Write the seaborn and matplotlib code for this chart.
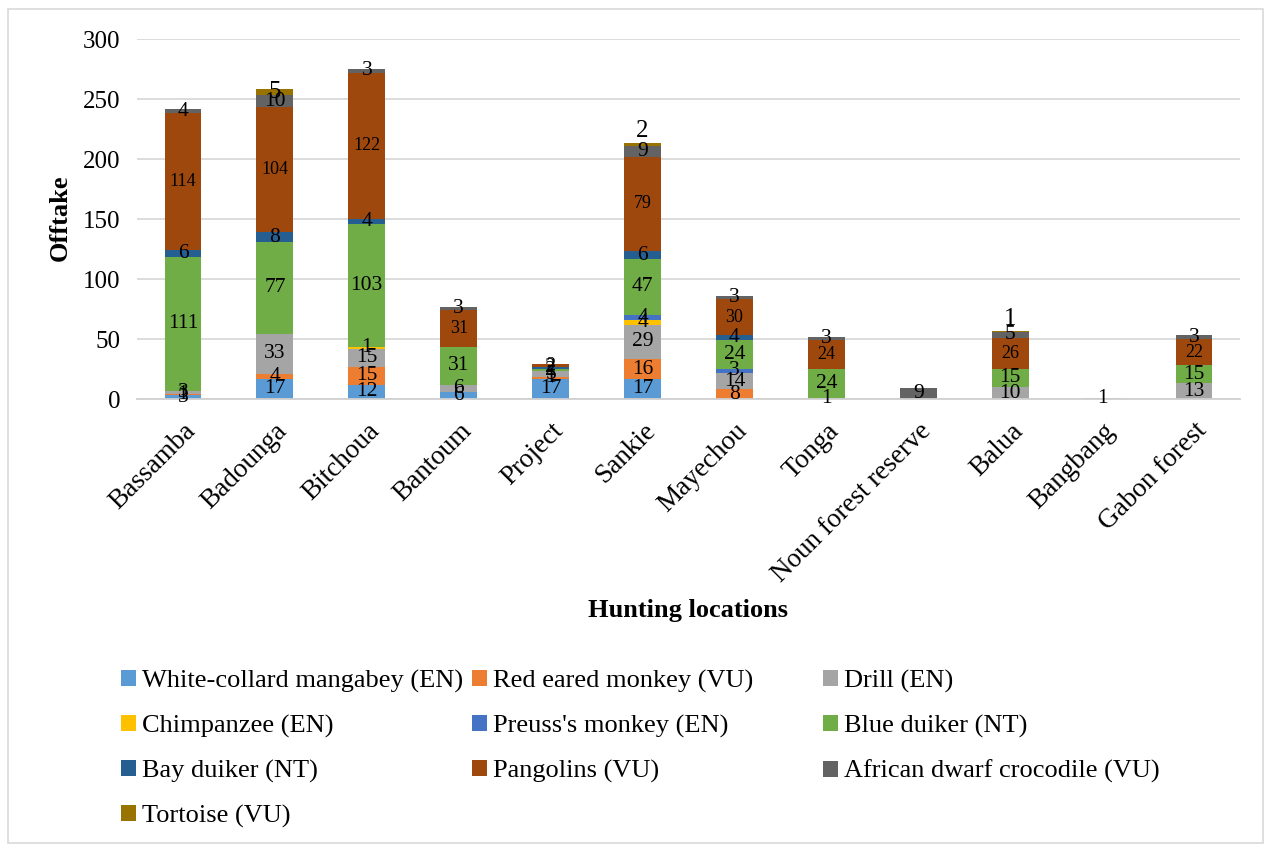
import numpy as np
import matplotlib
matplotlib.use("Agg")
import matplotlib.pyplot as plt
from matplotlib.patches import Patch, Rectangle
import seaborn as sns

# Hunting locations (x axis)
locations = ["Bassamba", "Badounga", "Bitchoua", "Bantoum", "Project", "Sankie",
             "Mayechou", "Tonga", "Noun forest reserve", "Balua", "Bangbang",
             "Gabon forest"]

# Offtake per species, one value per location
white_collard_mangabey = [3, 17, 12, 6, 17, 17, 0, 0, 0, 0, 0, 0]
red_eared_monkey       = [1, 4, 15, 0, 1, 16, 8, 0, 0, 0, 0, 0]
drill                  = [3, 33, 15, 6, 5, 29, 14, 1, 0, 10, 1, 13]
chimpanzee             = [0, 0, 1, 0, 0, 4, 0, 0, 0, 0, 0, 0]
preuss_monkey          = [0, 0, 0, 0, 0, 4, 3, 0, 0, 0, 0, 0]
blue_duiker            = [111, 77, 103, 31, 2, 47, 24, 24, 0, 15, 0, 15]
bay_duiker             = [6, 8, 4, 0, 2, 6, 4, 0, 0, 0, 0, 0]
pangolins              = [114, 104, 122, 31, 2, 79, 30, 24, 0, 26, 0, 22]
dwarf_crocodile        = [4, 10, 3, 3, 0, 9, 3, 3, 9, 5, 0, 3]
tortoise               = [0, 5, 0, 0, 0, 2, 0, 0, 0, 1, 0, 0]

species = ["White-collard mangabey (EN)", "Red eared monkey (VU)", "Drill (EN)",
           "Chimpanzee (EN)", "Preuss's monkey (EN)", "Blue duiker (NT)",
           "Bay duiker (NT)", "Pangolins (VU)", "African dwarf crocodile (VU)",
           "Tortoise (VU)"]
series = [white_collard_mangabey, red_eared_monkey, drill, chimpanzee, preuss_monkey,
          blue_duiker, bay_duiker, pangolins, dwarf_crocodile, tortoise]
colors = ["#5B9BD5", "#ED7D31", "#A5A5A5", "#FFC000", "#4472C4",
          "#70AD47", "#255E91", "#9E480E", "#636363", "#997300"]

sns.set_theme(style="white")
plt.rcParams["font.family"] = ["Liberation Serif", "DejaVu Serif"]
plt.rcParams["text.color"] = "black"
plt.rcParams["xtick.color"] = "black"
plt.rcParams["ytick.color"] = "black"

fig = plt.figure(figsize=(12.64, 8.44), dpi=100)
ax = fig.add_axes([137 / 1264, 1 - 399 / 844, (1240 - 137) / 1264, (399 - 39) / 844])

bottom = np.zeros(len(locations))
for name, vals, col in zip(species, series, colors):
    vals = np.array(vals, dtype=float)
    sns.barplot(x=locations, y=vals, bottom=bottom, color=col, width=0.4,
                linewidth=0, errorbar=None, ax=ax, order=locations,
                saturation=1)
    for i, v in enumerate(vals):
        if v <= 0:
            continue
        size = 15.5
        y = bottom[i] + v / 2
        if name.startswith("Pangolins"):
            size = 13
        elif name.startswith("Tortoise"):
            size = 18
            if v < 3:
                y = bottom[i] + v + 10
        ax.text(i, y, f"{int(v)}", ha="center", va="center",
                fontsize=size, color="black", zorder=5)
    bottom += vals

ax.set_ylim(0, 300)
ax.set_xlim(-0.5, len(locations) - 0.5)
ax.set_yticks(np.arange(0, 301, 50))
ax.yaxis.grid(True, color="#D9D9D9", linewidth=1.3)
ax.set_axisbelow(True)
for side in ["top", "right", "left"]:
    ax.spines[side].set_visible(False)
ax.spines["bottom"].set_color("#D0D0D0")
ax.spines["bottom"].set_linewidth(1.3)
ax.tick_params(axis="y", length=0, pad=12, labelsize=18)
ax.tick_params(axis="x", length=0, pad=14, labelsize=19.5)
plt.setp(ax.get_xticklabels(), rotation=45, ha="right", rotation_mode="anchor")

ax.set_ylabel("")
ax.set_xlabel("")
fig.text(60 / 1264, 1 - 218 / 844, "Offtake", rotation=90, ha="center", va="center",
         fontsize=19, fontweight="bold")
fig.text(688 / 1264, 1 - 610 / 844, "Hunting locations", ha="center", va="center",
         fontsize=19, fontweight="bold")

# Legend laid out row by row in three columns
col_x = [121, 472, 823]
for c in range(3):
    idx = list(range(c, len(species), 3))
    handles = [Patch(facecolor=colors[k], edgecolor="none") for k in idx]
    labels = [species[k] for k in idx]
    fig.legend(handles, labels, loc="upper left",
               bbox_to_anchor=(col_x[c] / 1264, 1 - 670 / 844),
               frameon=False, fontsize=19, handlelength=0.55, handleheight=0.55,
               handletextpad=0.25, labelspacing=0.83, borderpad=0, borderaxespad=0)

fig.patches.append(Rectangle((8 / 1264, 1 / 844), 1255 / 1264, 834 / 844,
                             transform=fig.transFigure, fill=False,
                             edgecolor="#D9D9D9", linewidth=1.2))

fig.savefig("out.png", dpi=100)
